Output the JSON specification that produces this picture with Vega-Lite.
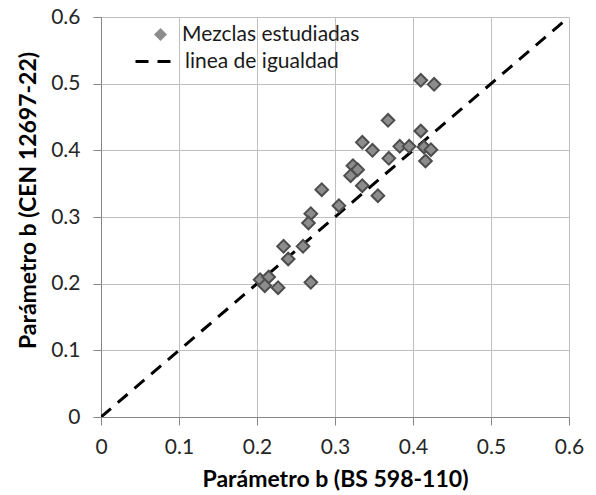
{
  "$schema": "https://vega.github.io/schema/vega-lite/v6.json",
  "width": 468,
  "height": 400,
  "autosize": {"type": "none"},
  "padding": {"left": 101, "top": 17, "right": 27, "bottom": 78},
  "background": "white",
  "config": {
    "font": "Lato",
    "view": {"stroke": null},
    "axis": {
      "gridColor": "#bfbfbf",
      "gridWidth": 1,
      "domainColor": "#868686",
      "tickColor": "#868686",
      "tickSize": 8,
      "labelFont": "Lato",
      "labelFontSize": 21,
      "labelColor": "#262626",
      "titleFont": "Lato",
      "titleFontSize": 23,
      "titleFontWeight": "bold",
      "titleColor": "#000000"
    },
    "legend": {"labelFont": "Lato", "labelFontSize": 21, "labelColor": "#1a1a1a", "padding": 0, "labelLimit": 400}
  },
  "layer": [
    {
      "data": {"values": [
        {"bs": 0.0, "cen": 0.0, "serie": "linea de igualdad"},
        {"bs": 0.6, "cen": 0.6, "serie": "linea de igualdad"}
      ]},
      "mark": {"type": "line", "color": "#000000", "strokeWidth": 3, "clip": true},
      "encoding": {
        "x": {"field": "bs", "type": "quantitative", "scale": {"domain": [0, 0.6], "nice": false},
              "axis": {"values": [0, 0.1, 0.2, 0.3, 0.4, 0.5, 0.6], "title": "Parámetro b (BS 598-110)", "labelPadding": 11, "titlePadding": 11, "labelFlush": false, "format": "~g"}},
        "y": {"field": "cen", "type": "quantitative", "scale": {"domain": [0, 0.6], "nice": false},
              "axis": {"values": [0, 0.1, 0.2, 0.3, 0.4, 0.5, 0.6], "title": "Parámetro b (CEN 12697-22)", "labelPadding": 13, "titlePadding": 10, "titleY": 183, "labelFlush": false, "format": "~g"}},
        "strokeDash": {"field": "serie", "type": "nominal", "scale": {"range": [[13, 9]]},
              "legend": {"title": null, "orient": "none", "legendX": 33, "legendY": 23, "symbolType": "stroke", "symbolSize": 1600, "symbolStrokeColor": "#000000", "symbolStrokeWidth": 3, "labelOffset": 8}}
      }
    },
    {
      "data": {"values": [
        {"bs": 0.410, "cen": 0.505, "serie": "Mezclas estudiadas"},
        {"bs": 0.427, "cen": 0.499, "serie": "Mezclas estudiadas"},
        {"bs": 0.368, "cen": 0.445, "serie": "Mezclas estudiadas"},
        {"bs": 0.410, "cen": 0.429, "serie": "Mezclas estudiadas"},
        {"bs": 0.335, "cen": 0.412, "serie": "Mezclas estudiadas"},
        {"bs": 0.348, "cen": 0.400, "serie": "Mezclas estudiadas"},
        {"bs": 0.383, "cen": 0.406, "serie": "Mezclas estudiadas"},
        {"bs": 0.395, "cen": 0.406, "serie": "Mezclas estudiadas"},
        {"bs": 0.414, "cen": 0.405, "serie": "Mezclas estudiadas"},
        {"bs": 0.423, "cen": 0.401, "serie": "Mezclas estudiadas"},
        {"bs": 0.416, "cen": 0.384, "serie": "Mezclas estudiadas"},
        {"bs": 0.369, "cen": 0.388, "serie": "Mezclas estudiadas"},
        {"bs": 0.323, "cen": 0.377, "serie": "Mezclas estudiadas"},
        {"bs": 0.329, "cen": 0.371, "serie": "Mezclas estudiadas"},
        {"bs": 0.320, "cen": 0.362, "serie": "Mezclas estudiadas"},
        {"bs": 0.335, "cen": 0.347, "serie": "Mezclas estudiadas"},
        {"bs": 0.355, "cen": 0.332, "serie": "Mezclas estudiadas"},
        {"bs": 0.283, "cen": 0.341, "serie": "Mezclas estudiadas"},
        {"bs": 0.305, "cen": 0.317, "serie": "Mezclas estudiadas"},
        {"bs": 0.269, "cen": 0.305, "serie": "Mezclas estudiadas"},
        {"bs": 0.266, "cen": 0.291, "serie": "Mezclas estudiadas"},
        {"bs": 0.234, "cen": 0.256, "serie": "Mezclas estudiadas"},
        {"bs": 0.259, "cen": 0.256, "serie": "Mezclas estudiadas"},
        {"bs": 0.240, "cen": 0.237, "serie": "Mezclas estudiadas"},
        {"bs": 0.204, "cen": 0.206, "serie": "Mezclas estudiadas"},
        {"bs": 0.215, "cen": 0.210, "serie": "Mezclas estudiadas"},
        {"bs": 0.210, "cen": 0.197, "serie": "Mezclas estudiadas"},
        {"bs": 0.227, "cen": 0.194, "serie": "Mezclas estudiadas"},
        {"bs": 0.269, "cen": 0.202, "serie": "Mezclas estudiadas"}
      ]},
      "mark": {"type": "point", "filled": true, "fill": "#8c8c8c", "stroke": "#4d4d4d", "strokeWidth": 2, "opacity": 1, "size": 160},
      "encoding": {
        "x": {"field": "bs", "type": "quantitative"},
        "y": {"field": "cen", "type": "quantitative"},
        "shape": {"field": "serie", "type": "nominal", "scale": {"range": ["diamond"]},
              "legend": {"title": null, "orient": "none", "legendX": 49, "legendY": 7, "symbolSize": 169, "symbolFillColor": "#8c8c8c", "symbolStrokeColor": "#8c8c8c", "symbolStrokeWidth": 1, "symbolOpacity": 1, "labelOffset": 11}}
      }
    }
  ]
}
